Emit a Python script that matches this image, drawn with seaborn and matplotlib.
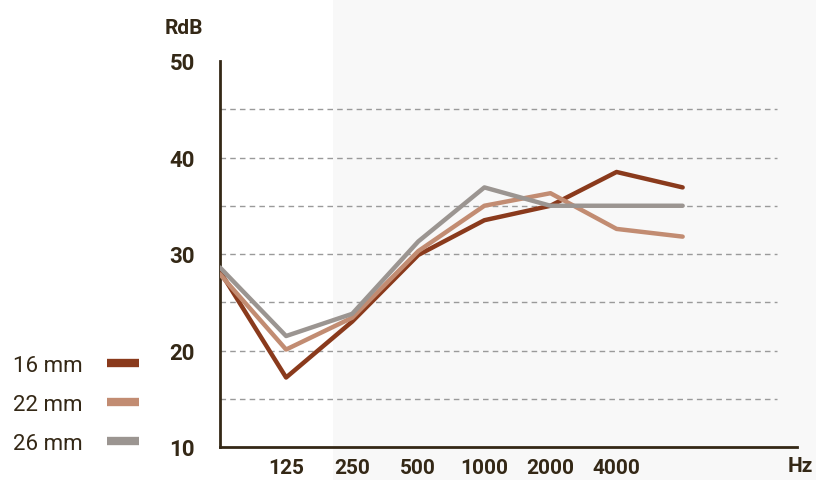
import numpy as np
import pandas as pd
import matplotlib
matplotlib.use("Agg")
import matplotlib.pyplot as plt
import seaborn as sns
from matplotlib.patches import Rectangle

# Data (RdB per frequency band)
bands = ["start", "125", "250", "500", "1000", "2000", "4000", "end"]
tick_labels = ["125", "250", "500", "1000", "2000", "4000"]
rdb_16 = [28.2, 17.2, 23.0, 29.9, 33.5, 35.0, 38.5, 36.9]
rdb_22 = [27.9, 20.1, 23.4, 30.3, 35.0, 36.3, 32.6, 31.8]
rdb_26 = [28.6, 21.5, 23.8, 31.3, 36.9, 35.0, 35.0, 35.0]
series_names = ["16 mm", "22 mm", "26 mm"]
colors = ["#8a3a1c", "#c28c72", "#9b9591"]

dark = "#342816"

# Long format table
rows = []
for name, vals in zip(series_names, [rdb_16, rdb_22, rdb_26]):
    for i, v in enumerate(vals):
        rows.append({"pos": i, "rdb": v, "thickness": name})
df = pd.DataFrame(rows)

sns.set_style("white")
plt.rcParams["font.family"] = ["Roboto", "DejaVu Sans"]

fig = plt.figure(figsize=(8.16, 4.81), dpi=100)
# faint grey scan background on the right part
bg = Rectangle((333 / 816, 0), 1, 1, transform=fig.transFigure,
               facecolor="#f8f8f8", edgecolor="none", zorder=-10)
fig.add_artist(bg)
ax = fig.add_axes([220 / 816, 33 / 481, 577 / 816, 386 / 481])
ax.set_facecolor("none")
ax.patch.set_alpha(0)

# dashed grid lines
for y in [15, 20, 25, 30, 35, 40, 45]:
    ax.plot([0, 8.43], [y, y], color="#9a9a9a", lw=1.0, ls=(0, (4, 3)), zorder=1)

sns.lineplot(data=df, x="pos", y="rdb", hue="thickness", palette=colors,
             linewidth=3.2, ax=ax, zorder=3, legend=True)

ax.set_xlim(0, 8.73)
ax.set_ylim(10, 50)
ax.set_xticks(range(1, 7))
ax.set_xticklabels(tick_labels)
ax.set_yticks([10, 20, 30, 40, 50])
ax.set_xlabel("")
ax.set_ylabel("")
ax.tick_params(axis="x", direction="in", length=6, width=1, color=dark,
               labelsize=15, labelcolor=dark, pad=8)
ax.tick_params(axis="y", length=0, labelsize=16, labelcolor=dark, pad=18)
for lab in ax.get_xticklabels() + ax.get_yticklabels():
    lab.set_fontweight("bold")

for s in ["top", "right"]:
    ax.spines[s].set_visible(False)
for s in ["left", "bottom"]:
    ax.spines[s].set_color(dark)
    ax.spines[s].set_linewidth(2)

fig.text(184 / 816, 1 - 28 / 481, "RdB", ha="center", va="center",
         fontsize=15, fontweight="bold", color=dark)
fig.text(800 / 816, 1 - 467 / 481, "Hz", ha="center", va="center",
         fontsize=15, fontweight="bold", color=dark)

leg = ax.legend(loc="center left", bbox_to_anchor=(-227 / 577, 0.11),
                frameon=False, markerfirst=False, fontsize=16,
                handlelength=1.45, handletextpad=1.1, labelspacing=0.8)
for t in leg.get_texts():
    t.set_color(dark)
for h in leg.get_lines():
    h.set_linewidth(6)
    h.set_solid_capstyle("butt")

fig.savefig("out.png", dpi=100)
